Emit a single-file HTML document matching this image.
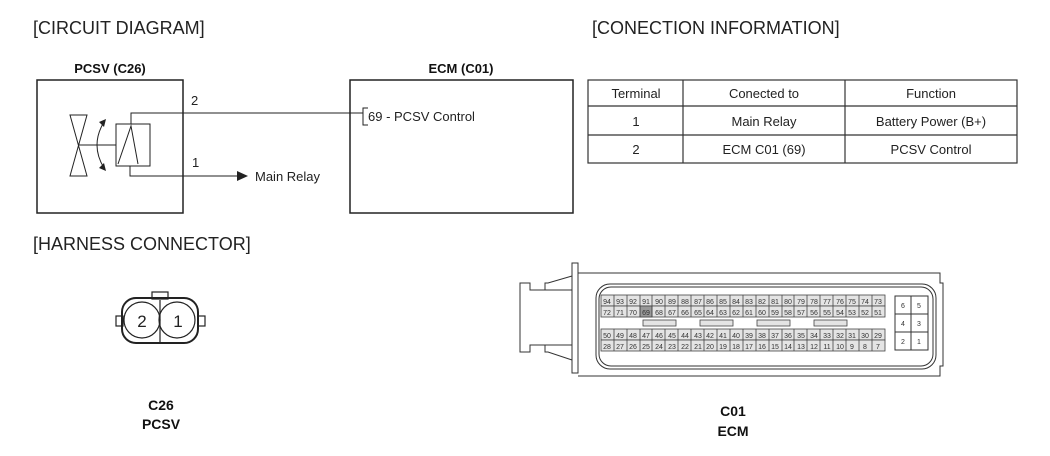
<!DOCTYPE html>
<html><head><meta charset="utf-8"><style>
html,body{margin:0;padding:0;background:#fff;}
svg{display:block;font-family:"Liberation Sans",Arial,sans-serif;}
</style></head><body>
<svg width="1050" height="456" viewBox="0 0 1050 456" xmlns="http://www.w3.org/2000/svg">
<g fill="#222" font-size="18">
<text x="33" y="34">[CIRCUIT DIAGRAM]</text>
<text x="592" y="34">[CONECTION INFORMATION]</text>
<text x="33" y="250">[HARNESS CONNECTOR]</text>
</g>
<g font-weight="bold" font-size="13" fill="#111" text-anchor="middle">
<text x="110" y="73">PCSV (C26)</text>
<text x="461" y="73">ECM (C01)</text>
<text x="161" y="410" font-size="14">C26</text>
<text x="161" y="429" font-size="14">PCSV</text>
<text x="733" y="416" font-size="14">C01</text>
<text x="733" y="436" font-size="14">ECM</text>
</g>
<g stroke="#222" fill="none" stroke-width="1.5">
<rect x="37" y="80" width="146" height="133"/>
<rect x="350" y="80" width="223" height="133"/>
</g>
<g stroke="#222" fill="none" stroke-width="1">
<path d="M70,115 L87,115 L70,176 L87,176 Z"/>
<line x1="78" y1="145" x2="116" y2="145"/>
<path d="M104,122 Q90,145 104,168"/>
<rect x="116" y="124" width="34" height="42"/>
<path d="M118,164 L131,126 L138,164"/>
<path d="M131,124 L131,113 L363,113"/>
<path d="M130,166 L130,176 L238,176"/>
<path d="M368,108 L363,108 L363,125 L368,125"/>
</g>
<polygon points="106,119 104,127 99,122" fill="#222"/>
<polygon points="106,171 104,163 99,168" fill="#222"/>
<polygon points="237,171 248,176 237,181" fill="#222"/>
<g fill="#222" font-size="13">
<text x="191" y="105">2</text>
<text x="192" y="167">1</text>
<text x="255" y="181">Main Relay</text>
<text x="368" y="121">69 - PCSV Control</text>
</g>
<g stroke="#333" fill="none" stroke-width="1.2">
<rect x="588" y="80" width="429" height="83"/>
<line x1="683" y1="80" x2="683" y2="163"/>
<line x1="845" y1="80" x2="845" y2="163"/>
<line x1="588" y1="106" x2="1017" y2="106"/>
<line x1="588" y1="135" x2="1017" y2="135"/>
</g>
<g fill="#222" font-size="13" text-anchor="middle">
<text x="636" y="98">Terminal</text><text x="764" y="98">Conected to</text><text x="931" y="98">Function</text>
<text x="636" y="126">1</text><text x="764" y="126">Main Relay</text><text x="931" y="126">Battery Power (B+)</text>
<text x="636" y="154">2</text><text x="764" y="154">ECM C01 (69)</text><text x="931" y="154">PCSV Control</text>
</g>
<g stroke="#222" fill="none" stroke-width="1.2">
<rect x="152" y="292" width="16" height="7"/>
<rect x="116" y="316" width="7" height="10"/>
<rect x="198" y="316" width="7" height="10"/>
<rect x="122" y="298" width="76" height="45" rx="14" stroke-width="2"/>
<circle cx="142" cy="320" r="18"/>
<circle cx="177" cy="320" r="18"/>
<line x1="160" y1="300" x2="160" y2="342"/>
</g>
<g fill="#222" font-size="17" text-anchor="middle">
<text x="142" y="327">2</text><text x="178" y="327">1</text>
</g>
<g stroke="#333" fill="none" stroke-width="1">
<path d="M572,263 L578,263 L578,373 L572,373 Z"/>
<path d="M578,273 L940,273 L940,283 L943,283 L943,366 L940,366 L940,376 L578,376"/>
<rect x="596" y="284" width="340" height="85" rx="14"/>
<rect x="599" y="287" width="334" height="79" rx="12"/>
<path d="M572,276 L548,283 L545,283 L545,290 L530,290 L530,283 L520,283 L520,352 L530,352 L530,345 L545,345 L545,352 L548,352 L572,360"/>
<line x1="545" y1="290" x2="572" y2="290"/>
<line x1="545" y1="345" x2="572" y2="345"/>
<rect x="895" y="296" width="33" height="54"/>
<line x1="911" y1="296" x2="911" y2="350"/>
<line x1="895" y1="314" x2="928" y2="314"/>
<line x1="895" y1="332" x2="928" y2="332"/>
</g>
<g fill="#e4e4e4" stroke="#444" stroke-width="0.8">
<rect x="601" y="295" width="284" height="11"/>
<rect x="601" y="306" width="284" height="11"/>
<rect x="601" y="329" width="284" height="11"/>
<rect x="601" y="340" width="284" height="11"/>
<rect x="643" y="320" width="33" height="6"/>
<rect x="700" y="320" width="33" height="6"/>
<rect x="757" y="320" width="33" height="6"/>
<rect x="814" y="320" width="33" height="6"/>
<rect x="640" y="306" width="12" height="11" fill="#999"/>
</g>
<g stroke="#444" stroke-width="0.8">
<path d="M614,295v56M627,295v56M640,295v56M652,295v56M665,295v56M678,295v56M691,295v56M704,295v56M717,295v56M730,295v56M743,295v56M756,295v56M769,295v56M782,295v56M794,295v56M807,295v56M820,295v56M833,295v56M846,295v56M859,295v56M872,295v56" stroke-dasharray="22 12"/>
</g>
<g fill="#333" font-size="7" text-anchor="middle">
<text y="304"><tspan x="607">94</tspan><tspan x="620">93</tspan><tspan x="633">92</tspan><tspan x="646">91</tspan><tspan x="659">90</tspan><tspan x="672">89</tspan><tspan x="685">88</tspan><tspan x="698">87</tspan><tspan x="710">86</tspan><tspan x="723">85</tspan><tspan x="736">84</tspan><tspan x="749">83</tspan><tspan x="762">82</tspan><tspan x="775">81</tspan><tspan x="788">80</tspan><tspan x="801">79</tspan><tspan x="814">78</tspan><tspan x="827">77</tspan><tspan x="840">76</tspan><tspan x="852">75</tspan><tspan x="865">74</tspan><tspan x="878">73</tspan></text>
<text y="315"><tspan x="607">72</tspan><tspan x="620">71</tspan><tspan x="633">70</tspan><tspan x="646">69</tspan><tspan x="659">68</tspan><tspan x="672">67</tspan><tspan x="685">66</tspan><tspan x="698">65</tspan><tspan x="710">64</tspan><tspan x="723">63</tspan><tspan x="736">62</tspan><tspan x="749">61</tspan><tspan x="762">60</tspan><tspan x="775">59</tspan><tspan x="788">58</tspan><tspan x="801">57</tspan><tspan x="814">56</tspan><tspan x="827">55</tspan><tspan x="840">54</tspan><tspan x="852">53</tspan><tspan x="865">52</tspan><tspan x="878">51</tspan></text>
<text y="338"><tspan x="607">50</tspan><tspan x="620">49</tspan><tspan x="633">48</tspan><tspan x="646">47</tspan><tspan x="659">46</tspan><tspan x="672">45</tspan><tspan x="685">44</tspan><tspan x="698">43</tspan><tspan x="710">42</tspan><tspan x="723">41</tspan><tspan x="736">40</tspan><tspan x="749">39</tspan><tspan x="762">38</tspan><tspan x="775">37</tspan><tspan x="788">36</tspan><tspan x="801">35</tspan><tspan x="814">34</tspan><tspan x="827">33</tspan><tspan x="840">32</tspan><tspan x="852">31</tspan><tspan x="865">30</tspan><tspan x="878">29</tspan></text>
<text y="349"><tspan x="607">28</tspan><tspan x="620">27</tspan><tspan x="633">26</tspan><tspan x="646">25</tspan><tspan x="659">24</tspan><tspan x="672">23</tspan><tspan x="685">22</tspan><tspan x="698">21</tspan><tspan x="710">20</tspan><tspan x="723">19</tspan><tspan x="736">18</tspan><tspan x="749">17</tspan><tspan x="762">16</tspan><tspan x="775">15</tspan><tspan x="788">14</tspan><tspan x="801">13</tspan><tspan x="814">12</tspan><tspan x="827">11</tspan><tspan x="840">10</tspan><tspan x="852">9</tspan><tspan x="865">8</tspan><tspan x="878">7</tspan></text>
<text y="308"><tspan x="903">6</tspan><tspan x="919">5</tspan></text>
<text y="326"><tspan x="903">4</tspan><tspan x="919">3</tspan></text>
<text y="344"><tspan x="903">2</tspan><tspan x="919">1</tspan></text>
</g>
</svg>
</body></html>
